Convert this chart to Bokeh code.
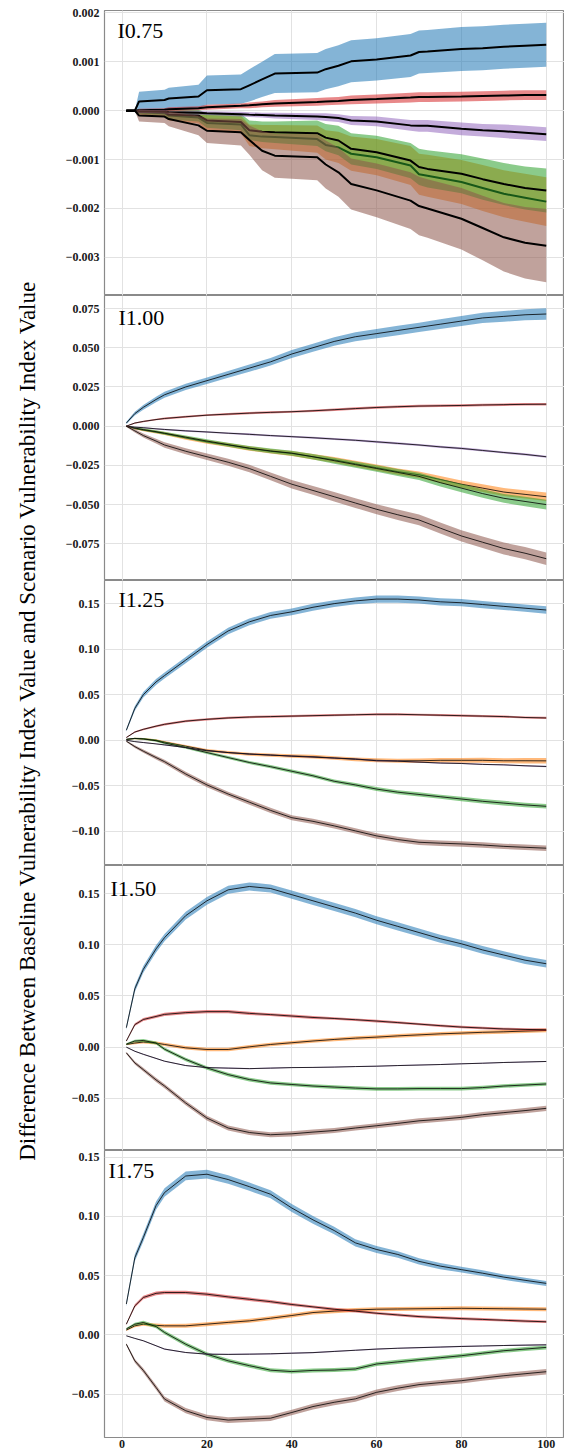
import math
import numpy as np
from bokeh.plotting import figure
from bokeh.layouts import row, column
from bokeh.models import Range1d, FixedTicker, CustomJSTickFormatter, Label, Grid, ColumnDataSource
from bokeh.embed import file_html
from bokeh.resources import INLINE

# ---------------- data ----------------
TITLES = ["I0.75", "I1.00", "I1.25", "I1.50", "I1.75"]
YLABEL = "Difference Between Baseline Vulnerability Index Value and Scenario Vulnerability Index Value"
SERIES_COLORS = ["#1f77b4", "#ff7f0e", "#2ca02c", "#d62728", "#9467bd", "#8c564b"]  # blue, orange, green, red, purple, brown
XTICKS = [0, 20, 40, 60, 80, 100]
XTICK_LABELS = ["0", "20", "40", "60", "80", "100"]

# panel 1 (I0.75)
X1 = [1, 3, 4, 10, 11, 18, 20, 28, 30, 33, 36, 46, 48, 51, 54, 60, 68, 70, 72, 80, 85, 90, 95, 100]
P1_BLUE = [0, 0, 0.00019, 0.00022, 0.00025, 0.00029, 0.00042, 0.00044, 0.00052, 0.00064, 0.00076, 0.00078, 0.00085, 0.00092, 0.00101, 0.00105, 0.00113, 0.00120, 0.00121, 0.00126, 0.00128, 0.00131, 0.00133, 0.00135]
P1_BLUE_HW = [0, 0, 0.0002, 0.00021, 0.00022, 0.00024, 0.0003, 0.0003, 0.00033, 0.00036, 0.0004, 0.0004, 0.00041, 0.00042, 0.00043, 0.00043, 0.00044, 0.00044, 0.00044, 0.00045, 0.00045, 0.00045, 0.00045, 0.00045]
P1_ORANGE = [0, 0, -0.00003, -0.00005, -0.0001, -0.00014, -0.00025, -0.00028, -0.0005, -0.00053, -0.00054, -0.00058, -0.0007, -0.00075, -0.00088, -0.00095, -0.00112, -0.0013, -0.00133, -0.00146, -0.00158, -0.0017, -0.00178, -0.00186]
P1_ORANGE_HW = [0, 0, 0.00005, 0.00007, 0.0001, 0.00012, 0.00016, 0.00018, 0.00022, 0.00024, 0.00025, 0.00028, 0.0003, 0.00032, 0.00035, 0.00037, 0.0004, 0.00042, 0.00043, 0.00045, 0.00047, 0.00048, 0.00049, 0.0005]
P1_GREEN = [0, 0, -0.00002, -0.00003, -0.00008, -0.0001, -0.0002, -0.00023, -0.0004, -0.00043, -0.00044, -0.00046, -0.00055, -0.00061, -0.00078, -0.00085, -0.00102, -0.00115, -0.00119, -0.00129, -0.0014, -0.0015, -0.00158, -0.00163]
P1_GREEN_HW = [0, 0, 0.00005, 0.00007, 0.0001, 0.00012, 0.00015, 0.00017, 0.0002, 0.00021, 0.00022, 0.00026, 0.00028, 0.0003, 0.00032, 0.00034, 0.00036, 0.00037, 0.00038, 0.0004, 0.00042, 0.00043, 0.00044, 0.00045]
P1_RED = [0, 0, 0.00001, 0.00002, 0.00003, 0.00005, 0.00007, 0.0001, 0.00011, 0.00013, 0.00015, 0.00018, 0.00019, 0.0002, 0.00022, 0.00024, 0.00027, 0.00028, 0.00028, 0.00029, 0.0003, 0.00031, 0.00032, 0.00032]
P1_RED_HW = [0, 0, 0.00003, 0.00003, 0.00004, 0.00004, 0.00005, 0.00005, 0.00006, 0.00006, 0.00007, 0.00008, 0.00008, 0.00008, 0.00009, 0.00009, 0.0001, 0.0001, 0.0001, 0.0001, 0.0001, 0.0001, 0.0001, 0.0001]
P1_PURPLE = [0, 0, -0.00001, -0.00002, -0.00003, -0.00004, -0.00005, -0.00007, -0.00008, -0.00009, -0.0001, -0.00012, -0.00013, -0.00015, -0.0002, -0.00022, -0.0003, -0.00031, -0.00031, -0.00037, -0.0004, -0.00042, -0.00045, -0.00048]
P1_PURPLE_HW = [0, 0, 0.00003, 0.00003, 0.00003, 0.00004, 0.00004, 0.00005, 0.00005, 0.00005, 0.00006, 0.00007, 0.00008, 0.00008, 0.00009, 0.0001, 0.00011, 0.00012, 0.00012, 0.00013, 0.00013, 0.00014, 0.00014, 0.00014]
P1_BROWN = [0, 0, -0.0001, -0.00012, -0.00017, -0.0003, -0.00041, -0.00044, -0.0006, -0.00082, -0.00092, -0.00095, -0.0011, -0.00126, -0.0015, -0.00163, -0.00184, -0.00195, -0.002, -0.00221, -0.0024, -0.00259, -0.0027, -0.00276]
P1_BROWN_HW = [0, 0, 0.00012, 0.00013, 0.00015, 0.0002, 0.00025, 0.00027, 0.0003, 0.0004, 0.00045, 0.00047, 0.00049, 0.0005, 0.00052, 0.00055, 0.00058, 0.0006, 0.0006, 0.00063, 0.00066, 0.0007, 0.00073, 0.00075]

# panels 2-5 share this x grid
X = [1, 3, 5, 8, 10, 15, 20, 25, 30, 35, 40, 45, 50, 55, 60, 65, 70, 75, 80, 85, 90, 95, 100]

# panel 2 (I1.00)
P2_BLUE = [0.002, 0.008, 0.012, 0.017, 0.020, 0.025, 0.029, 0.033, 0.037, 0.041, 0.046, 0.050, 0.054, 0.057, 0.059, 0.061, 0.063, 0.065, 0.067, 0.069, 0.070, 0.071, 0.0715]
P2_BLUE_HW = [0.0008, 0.0012, 0.0015, 0.0018, 0.0019, 0.002, 0.0021, 0.0022, 0.0023, 0.0024, 0.0025, 0.0026, 0.0027, 0.0028, 0.0029, 0.003, 0.003, 0.0031, 0.0032, 0.0033, 0.0034, 0.0035, 0.0036]
P2_ORANGE = [0, -0.0015, -0.0025, -0.0038, -0.0047, -0.0075, -0.010, -0.012, -0.0142, -0.016, -0.0174, -0.0195, -0.0215, -0.024, -0.0265, -0.029, -0.031, -0.034, -0.037, -0.0395, -0.042, -0.0435, -0.045]
P2_ORANGE_HW = [0.0003, 0.0006, 0.0008, 0.0009, 0.001, 0.0011, 0.0012, 0.0013, 0.0014, 0.0015, 0.0016, 0.0017, 0.0018, 0.0019, 0.002, 0.002, 0.0021, 0.0022, 0.0023, 0.0024, 0.0025, 0.0026, 0.0027]
P2_GREEN = [0, -0.0012, -0.0022, -0.0035, -0.0045, -0.007, -0.0095, -0.0118, -0.014, -0.0158, -0.0172, -0.0195, -0.022, -0.0245, -0.027, -0.0295, -0.032, -0.036, -0.0395, -0.043, -0.046, -0.048, -0.050]
P2_GREEN_HW = [0.0003, 0.0006, 0.0008, 0.0009, 0.001, 0.0011, 0.0012, 0.0013, 0.0014, 0.0015, 0.0016, 0.0018, 0.0019, 0.002, 0.0021, 0.0022, 0.0023, 0.0025, 0.0026, 0.0027, 0.0028, 0.003, 0.0031]
P2_RED = [0, 0.002, 0.003, 0.0042, 0.0049, 0.006, 0.007, 0.0077, 0.0083, 0.0088, 0.0092, 0.0098, 0.0105, 0.0112, 0.0119, 0.0124, 0.0128, 0.013, 0.0132, 0.0135, 0.0137, 0.0139, 0.014]
P2_RED_HW = [0.0002, 0.0004, 0.0005, 0.0005, 0.0006, 0.0006, 0.0006, 0.0007, 0.0007, 0.0007, 0.0007, 0.0007, 0.0008, 0.0008, 0.0008, 0.0008, 0.0008, 0.0008, 0.0008, 0.0008, 0.0008, 0.0008, 0.0008]
P2_PURPLE = [0, -0.0006, -0.001, -0.0017, -0.0021, -0.003, -0.0037, -0.0045, -0.0052, -0.006, -0.0067, -0.0074, -0.0082, -0.009, -0.010, -0.011, -0.012, -0.0132, -0.0142, -0.0155, -0.0168, -0.018, -0.0195]
P2_PURPLE_HW = [0.0002, 0.0003, 0.0004, 0.0004, 0.0005, 0.0005, 0.0005, 0.0005, 0.0006, 0.0006, 0.0006, 0.0006, 0.0006, 0.0006, 0.0007, 0.0007, 0.0007, 0.0007, 0.0007, 0.0007, 0.0007, 0.0007, 0.0007]
P2_BROWN = [0, -0.003, -0.006, -0.0095, -0.012, -0.016, -0.0195, -0.023, -0.027, -0.032, -0.037, -0.041, -0.045, -0.049, -0.053, -0.0565, -0.0598, -0.065, -0.070, -0.074, -0.078, -0.081, -0.0845]
P2_BROWN_HW = [0.0005, 0.001, 0.0013, 0.0015, 0.0017, 0.0019, 0.002, 0.0022, 0.0024, 0.0025, 0.0027, 0.0028, 0.003, 0.0031, 0.0032, 0.0033, 0.0034, 0.0035, 0.0036, 0.0037, 0.0038, 0.0039, 0.004]

# panel 3 (I1.25)
P3_BLUE = [0.011, 0.035, 0.050, 0.064, 0.071, 0.088, 0.105, 0.120, 0.130, 0.137, 0.141, 0.146, 0.150, 0.153, 0.155, 0.155, 0.154, 0.152, 0.151, 0.149, 0.147, 0.145, 0.143]
P3_BLUE_HW = [0.0015, 0.0025, 0.003, 0.0032, 0.0033, 0.0034, 0.0035, 0.0036, 0.0036, 0.0037, 0.0037, 0.0038, 0.0038, 0.0038, 0.0039, 0.0039, 0.0039, 0.004, 0.004, 0.004, 0.004, 0.004, 0.004]
P3_ORANGE = [0.001, 0.002, 0.0015, 0.0, -0.002, -0.0065, -0.011, -0.0135, -0.0153, -0.0163, -0.0172, -0.018, -0.0195, -0.021, -0.022, -0.0225, -0.0225, -0.022, -0.022, -0.022, -0.0225, -0.0225, -0.0226]
P3_ORANGE_HW = [0.0005, 0.0008, 0.001, 0.0012, 0.0013, 0.0014, 0.0015, 0.0016, 0.0017, 0.0018, 0.0019, 0.002, 0.002, 0.0021, 0.0022, 0.0023, 0.0024, 0.0025, 0.0026, 0.0027, 0.0028, 0.0029, 0.003]
P3_GREEN = [0.001, 0.002, 0.0015, -0.0005, -0.003, -0.008, -0.0135, -0.019, -0.0244, -0.029, -0.034, -0.039, -0.045, -0.049, -0.0536, -0.057, -0.0595, -0.062, -0.0645, -0.067, -0.069, -0.071, -0.0725]
P3_GREEN_HW = [0.0005, 0.0008, 0.001, 0.0012, 0.0013, 0.0014, 0.0015, 0.0016, 0.0017, 0.0018, 0.0019, 0.002, 0.002, 0.0021, 0.0022, 0.0022, 0.0023, 0.0023, 0.0024, 0.0024, 0.0025, 0.0025, 0.0025]
P3_RED = [0.003, 0.009, 0.012, 0.0155, 0.0175, 0.021, 0.023, 0.0245, 0.0255, 0.026, 0.0265, 0.027, 0.0275, 0.028, 0.0285, 0.0285, 0.028, 0.0275, 0.027, 0.0265, 0.026, 0.025, 0.0245]
P3_RED_HW = [0.0005, 0.0008, 0.001, 0.0011, 0.0012, 0.0012, 0.0012, 0.0012, 0.0012, 0.0012, 0.0012, 0.0012, 0.0012, 0.0012, 0.0012, 0.0012, 0.0012, 0.0012, 0.0012, 0.0012, 0.0012, 0.0012, 0.0012]
P3_PURPLE = [0, -0.0015, -0.0025, -0.004, -0.0051, -0.008, -0.0115, -0.0135, -0.015, -0.0162, -0.0175, -0.0185, -0.0195, -0.0205, -0.0225, -0.023, -0.024, -0.025, -0.0255, -0.0265, -0.027, -0.028, -0.0288]
P3_PURPLE_HW = [0.0003, 0.0004, 0.0005, 0.0005, 0.0006, 0.0006, 0.0006, 0.0006, 0.0006, 0.0006, 0.0007, 0.0007, 0.0007, 0.0007, 0.0007, 0.0007, 0.0007, 0.0007, 0.0007, 0.0007, 0.0007, 0.0007, 0.0007]
P3_BROWN = [-0.001, -0.007, -0.012, -0.019, -0.0235, -0.037, -0.049, -0.059, -0.068, -0.077, -0.085, -0.089, -0.094, -0.0995, -0.105, -0.109, -0.112, -0.113, -0.1138, -0.115, -0.1165, -0.1175, -0.1185]
P3_BROWN_HW = [0.0008, 0.0015, 0.0018, 0.002, 0.0022, 0.0024, 0.0025, 0.0026, 0.0027, 0.0028, 0.0028, 0.0029, 0.0029, 0.003, 0.003, 0.003, 0.003, 0.003, 0.003, 0.003, 0.003, 0.003, 0.003]

# panel 4 (I1.50)
P4_BLUE = [0.019, 0.057, 0.076, 0.096, 0.107, 0.1285, 0.143, 0.1537, 0.157, 0.155, 0.149, 0.143, 0.137, 0.131, 0.124, 0.118, 0.112, 0.106, 0.101, 0.095, 0.090, 0.085, 0.0815]
P4_BLUE_HW = [0.002, 0.003, 0.0033, 0.0035, 0.0036, 0.0037, 0.0038, 0.0039, 0.004, 0.004, 0.004, 0.004, 0.004, 0.004, 0.004, 0.004, 0.0039, 0.0039, 0.0038, 0.0038, 0.0037, 0.0037, 0.0036]
P4_ORANGE = [0.0026, 0.004, 0.005, 0.004, 0.0026, -0.0007, -0.0023, -0.0023, 0.0003, 0.0026, 0.0043, 0.006, 0.0075, 0.0088, 0.0098, 0.011, 0.012, 0.013, 0.0137, 0.0145, 0.015, 0.0157, 0.0163]
P4_ORANGE_HW = [0.0008, 0.0012, 0.0014, 0.0015, 0.0016, 0.0017, 0.0017, 0.0018, 0.0018, 0.0018, 0.0018, 0.0018, 0.0018, 0.0018, 0.0018, 0.0018, 0.0018, 0.0018, 0.0018, 0.0018, 0.0018, 0.0018, 0.0018]
P4_GREEN = [0.003, 0.006, 0.0065, 0.004, -0.002, -0.012, -0.0203, -0.0268, -0.0317, -0.035, -0.0365, -0.038, -0.039, -0.040, -0.0408, -0.0408, -0.0405, -0.0405, -0.0405, -0.0395, -0.038, -0.037, -0.036]
P4_GREEN_HW = [0.0008, 0.0012, 0.0014, 0.0015, 0.0016, 0.0017, 0.0017, 0.0018, 0.0018, 0.0018, 0.0018, 0.0018, 0.0018, 0.0018, 0.0018, 0.0018, 0.0018, 0.0018, 0.0018, 0.0018, 0.0018, 0.0018, 0.0018]
P4_RED = [0.006, 0.022, 0.027, 0.030, 0.032, 0.0337, 0.0347, 0.0347, 0.033, 0.0318, 0.0304, 0.029, 0.028, 0.0268, 0.0255, 0.024, 0.0225, 0.021, 0.0196, 0.0187, 0.0178, 0.0173, 0.017]
P4_RED_HW = [0.0008, 0.0013, 0.0015, 0.0015, 0.0015, 0.0015, 0.0015, 0.0015, 0.0015, 0.0014, 0.0014, 0.0014, 0.0013, 0.0013, 0.0013, 0.0012, 0.0012, 0.0012, 0.0012, 0.0012, 0.0012, 0.0012, 0.0012]
P4_PURPLE = [0, -0.004, -0.007, -0.011, -0.0137, -0.018, -0.020, -0.0205, -0.021, -0.0205, -0.020, -0.0198, -0.0195, -0.019, -0.0186, -0.018, -0.0175, -0.017, -0.0163, -0.0157, -0.015, -0.0145, -0.014]
P4_PURPLE_HW = [0.0003, 0.0004, 0.0005, 0.0005, 0.0005, 0.0005, 0.0005, 0.0005, 0.0005, 0.0005, 0.0005, 0.0005, 0.0005, 0.0005, 0.0005, 0.0005, 0.0005, 0.0005, 0.0005, 0.0005, 0.0005, 0.0005, 0.0005]
P4_BROWN = [-0.0056, -0.0154, -0.022, -0.032, -0.038, -0.0546, -0.0693, -0.079, -0.0834, -0.0856, -0.0847, -0.083, -0.0815, -0.079, -0.0768, -0.0745, -0.072, -0.0705, -0.0686, -0.066, -0.064, -0.062, -0.0598]
P4_BROWN_HW = [0.001, 0.0016, 0.0019, 0.002, 0.0021, 0.0022, 0.0023, 0.0024, 0.0024, 0.0025, 0.0025, 0.0025, 0.0025, 0.0025, 0.0025, 0.0025, 0.0025, 0.0025, 0.0025, 0.0025, 0.0025, 0.0025, 0.0025]

# panel 5 (I1.75)
P5_BLUE = [0.026, 0.065, 0.082, 0.109, 0.120, 0.134, 0.1355, 0.131, 0.125, 0.1186, 0.107, 0.097, 0.088, 0.0776, 0.072, 0.0678, 0.062, 0.058, 0.055, 0.052, 0.0487, 0.046, 0.0434]
P5_BLUE_HW = [0.002, 0.003, 0.0033, 0.0035, 0.0036, 0.0037, 0.0037, 0.0036, 0.0035, 0.0034, 0.0033, 0.0032, 0.0031, 0.003, 0.0029, 0.0028, 0.0027, 0.0026, 0.0025, 0.0024, 0.0023, 0.0022, 0.0021]
P5_ORANGE = [0.004, 0.0076, 0.009, 0.008, 0.0076, 0.0076, 0.009, 0.0105, 0.0118, 0.014, 0.0163, 0.0188, 0.020, 0.021, 0.0216, 0.0218, 0.022, 0.0222, 0.0224, 0.0222, 0.022, 0.0218, 0.0216]
P5_ORANGE_HW = [0.0008, 0.0012, 0.0014, 0.0015, 0.0016, 0.0017, 0.0017, 0.0017, 0.0017, 0.0017, 0.0017, 0.0017, 0.0017, 0.0017, 0.0017, 0.0017, 0.0017, 0.0017, 0.0017, 0.0017, 0.0017, 0.0017, 0.0017]
P5_GREEN = [0.005, 0.009, 0.0104, 0.007, 0.002, -0.0079, -0.0163, -0.0219, -0.026, -0.0298, -0.031, -0.030, -0.0297, -0.0288, -0.0246, -0.0228, -0.021, -0.0193, -0.0176, -0.0155, -0.0134, -0.012, -0.0106]
P5_GREEN_HW = [0.0008, 0.0012, 0.0014, 0.0015, 0.0016, 0.0017, 0.0017, 0.0017, 0.0017, 0.0017, 0.0017, 0.0017, 0.0017, 0.0017, 0.0017, 0.0017, 0.0017, 0.0017, 0.0017, 0.0017, 0.0017, 0.0017, 0.0017]
P5_RED = [0.009, 0.0244, 0.0315, 0.035, 0.0357, 0.0357, 0.0343, 0.032, 0.030, 0.028, 0.0256, 0.0236, 0.0216, 0.020, 0.0182, 0.0168, 0.0154, 0.0145, 0.0137, 0.013, 0.0123, 0.0116, 0.011]
P5_RED_HW = [0.0008, 0.0013, 0.0015, 0.0015, 0.0015, 0.0015, 0.0015, 0.0014, 0.0014, 0.0013, 0.0013, 0.0012, 0.0012, 0.0012, 0.0011, 0.0011, 0.0011, 0.0011, 0.0011, 0.0011, 0.0011, 0.0011, 0.0011]
P5_PURPLE = [-0.0008, -0.003, -0.005, -0.0092, -0.012, -0.0149, -0.0163, -0.0165, -0.0163, -0.016, -0.0155, -0.015, -0.014, -0.013, -0.012, -0.0113, -0.0108, -0.0103, -0.0098, -0.0094, -0.009, -0.0087, -0.0084]
P5_PURPLE_HW = [0.0003, 0.0004, 0.0005, 0.0005, 0.0005, 0.0005, 0.0005, 0.0005, 0.0005, 0.0005, 0.0005, 0.0005, 0.0005, 0.0005, 0.0005, 0.0005, 0.0005, 0.0005, 0.0005, 0.0005, 0.0005, 0.0005, 0.0005]
P5_BROWN = [-0.0079, -0.0219, -0.030, -0.0444, -0.0542, -0.064, -0.0697, -0.0719, -0.0711, -0.0703, -0.0655, -0.0605, -0.0569, -0.054, -0.0485, -0.045, -0.042, -0.0403, -0.0387, -0.0365, -0.0345, -0.0328, -0.0311]
P5_BROWN_HW = [0.001, 0.0016, 0.0019, 0.002, 0.0021, 0.0022, 0.0023, 0.0024, 0.0024, 0.0024, 0.0024, 0.0024, 0.0024, 0.0024, 0.0024, 0.0024, 0.0023, 0.0023, 0.0023, 0.0023, 0.0023, 0.0023, 0.0023]

# axis ticks / ranges
P1_YTICKS = [-0.003, -0.002, -0.001, 0, 0.001, 0.002]
P1_YLABELS = ["\u22120.003", "\u22120.002", "\u22120.001", "0.000", "0.001", "0.002"]
P2_YTICKS = [-0.075, -0.05, -0.025, 0, 0.025, 0.05, 0.075]
P2_YLABELS = ["\u22120.075", "\u22120.050", "\u22120.025", "0.000", "0.025", "0.050", "0.075"]
P3_YTICKS = [-0.10, -0.05, 0, 0.05, 0.10, 0.15]
P3_YLABELS = ["\u22120.10", "\u22120.05", "0.00", "0.05", "0.10", "0.15"]
P4_YTICKS = [-0.05, 0, 0.05, 0.10, 0.15]
P4_YLABELS = ["\u22120.05", "0.00", "0.05", "0.10", "0.15"]
P5_YTICKS = [-0.05, 0, 0.05, 0.10, 0.15]
P5_YLABELS = ["\u22120.05", "0.00", "0.05", "0.10", "0.15"]

X_RANGE = (-4.15, 104.3)
Y_RANGES = [(-0.00378, 0.00205), (-0.0984, 0.0833), (-0.1375, 0.1754), (-0.1010, 0.1775), (-0.0866, 0.1555)]

# ---------------- styling ----------------
SERIF = "Liberation Serif"
GRID_COLOR = "#e2e2e2"
OUTLINE_COLOR = "#8a8a8a"
FRAME_H = 285
PANEL_W = 520
LEFT_BORDER = 60
TITLE_DX = [13, 14, 14, 6, 4]
TITLE_DY = [7, 9, 6, 10, 5]

PANELS = [
    (X1, [(P1_BLUE, P1_BLUE_HW), (P1_ORANGE, P1_ORANGE_HW), (P1_GREEN, P1_GREEN_HW),
          (P1_RED, P1_RED_HW), (P1_PURPLE, P1_PURPLE_HW), (P1_BROWN, P1_BROWN_HW)], P1_YTICKS, P1_YLABELS),
    (X, [(P2_BLUE, P2_BLUE_HW), (P2_ORANGE, P2_ORANGE_HW), (P2_GREEN, P2_GREEN_HW),
         (P2_RED, P2_RED_HW), (P2_PURPLE, P2_PURPLE_HW), (P2_BROWN, P2_BROWN_HW)], P2_YTICKS, P2_YLABELS),
    (X, [(P3_BLUE, P3_BLUE_HW), (P3_ORANGE, P3_ORANGE_HW), (P3_GREEN, P3_GREEN_HW),
         (P3_RED, P3_RED_HW), (P3_PURPLE, P3_PURPLE_HW), (P3_BROWN, P3_BROWN_HW)], P3_YTICKS, P3_YLABELS),
    (X, [(P4_BLUE, P4_BLUE_HW), (P4_ORANGE, P4_ORANGE_HW), (P4_GREEN, P4_GREEN_HW),
         (P4_RED, P4_RED_HW), (P4_PURPLE, P4_PURPLE_HW), (P4_BROWN, P4_BROWN_HW)], P4_YTICKS, P4_YLABELS),
    (X, [(P5_BLUE, P5_BLUE_HW), (P5_ORANGE, P5_ORANGE_HW), (P5_GREEN, P5_GREEN_HW),
         (P5_RED, P5_RED_HW), (P5_PURPLE, P5_PURPLE_HW), (P5_BROWN, P5_BROWN_HW)], P5_YTICKS, P5_YLABELS),
]

TICK_JS = """
for (let i = 0; i < tks.length; i++) {
  if (Math.abs(tks[i] - tick) < 1e-9) { return lbls[i]; }
}
return "";
"""

figs = []
n = len(PANELS)
for i, (xs, series, yticks, ylabels) in enumerate(PANELS):
    first = i == 0
    last = i == n - 1
    h = FRAME_H + (10 if first else 0) + (15 if last else 0)
    p = figure(width=PANEL_W, height=h, output_backend="svg", toolbar_location=None,
               x_range=Range1d(*X_RANGE), y_range=Range1d(*Y_RANGES[i]),
               x_axis_location="below" if last else None, y_axis_location="left",
               min_border_left=LEFT_BORDER, min_border_right=0,
               min_border_top=10 if first else 0, min_border_bottom=0)
    p.background_fill_color = "white"
    p.border_fill_color = "white"
    p.outline_line_color = OUTLINE_COLOR
    p.outline_line_width = 1.2

    # y axis
    ya = p.yaxis[0]
    ya.ticker = FixedTicker(ticks=yticks)
    ya.formatter = CustomJSTickFormatter(args=dict(tks=yticks, lbls=ylabels), code=TICK_JS)
    ya.axis_line_color = None
    ya.major_tick_line_color = None
    ya.minor_tick_line_color = None
    ya.major_tick_out = 0
    ya.major_tick_in = 0
    ya.major_label_standoff = 5
    ya.major_label_text_font = SERIF
    ya.major_label_text_font_style = "bold"
    ya.major_label_text_font_size = "12px"
    ya.major_label_text_color = "#1a1a1a"
    p.ygrid.ticker = FixedTicker(ticks=yticks)
    p.ygrid.grid_line_color = GRID_COLOR
    p.ygrid.grid_line_width = 1

    if last:
        xa = p.xaxis[0]
        xa.ticker = FixedTicker(ticks=XTICKS)
        xa.formatter = CustomJSTickFormatter(args=dict(tks=XTICKS, lbls=XTICK_LABELS), code=TICK_JS)
        xa.axis_line_color = None
        xa.major_tick_line_color = None
        xa.minor_tick_line_color = None
        xa.major_tick_out = 0
        xa.major_tick_in = 0
        xa.major_label_standoff = 2
        xa.major_label_text_font = SERIF
        xa.major_label_text_font_style = "bold"
        xa.major_label_text_font_size = "12px"
        xa.major_label_text_color = "#1a1a1a"
        p.xgrid.ticker = FixedTicker(ticks=XTICKS)
        p.xgrid.grid_line_color = GRID_COLOR
        p.xgrid.grid_line_width = 1
    else:
        p.add_layout(Grid(dimension=0, ticker=FixedTicker(ticks=XTICKS),
                          grid_line_color=GRID_COLOR, grid_line_width=1))

    lw = 2.0 if first else 1.0
    la = 1.0 if first else 0.8
    for (mean, hw), color in zip(series, SERIES_COLORS):
        m = np.array(mean, dtype=float)
        w = np.array(hw, dtype=float)
        src = ColumnDataSource(dict(x=xs, y=m, lo=m - w, hi=m + w))
        p.varea(x="x", y1="lo", y2="hi", source=src, fill_color=color, fill_alpha=0.55)
        p.line(x="x", y="y", source=src, line_color="black", line_width=lw, line_alpha=la)

    p.add_layout(Label(x=TITLE_DX[i], y=FRAME_H - TITLE_DY[i], x_units="screen", y_units="screen",
                       text=TITLES[i], text_font=SERIF, text_font_size="22px",
                       text_color="black", text_baseline="top", text_align="left"))
    figs.append(p)

lab = figure(width=44, height=1450, output_backend="svg", toolbar_location=None,
             x_axis_location=None, y_axis_location=None, min_border=0)
lab.outline_line_color = None
lab.background_fill_color = "white"
lab.border_fill_color = "white"
lab.add_layout(Label(x=27, y=730, x_units="screen", y_units="screen", angle=math.pi / 2,
                     text=YLABEL, text_font=SERIF, text_font_size="23px", text_color="black",
                     text_align="center", text_baseline="alphabetic"))

layout = row(lab, column(*figs))
open("out.html", "w").write(file_html(layout, INLINE))
